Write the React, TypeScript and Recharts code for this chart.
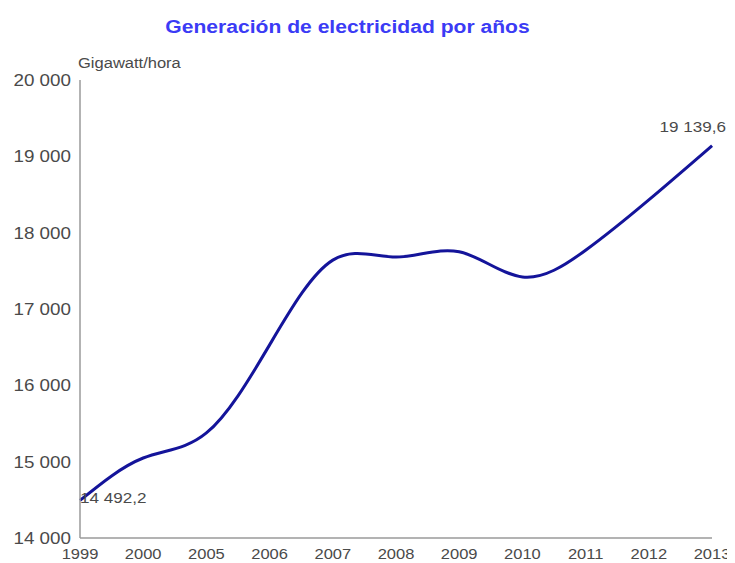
import { LineChart, Line, XAxis, YAxis, LabelList } from 'recharts'

const years = ['1999', '2000', '2005', '2006', '2007', '2008', '2009', '2010', '2011', '2012', '2013']
const generation = [14492.2, 15048, 15376, 16530, 17640, 17681, 17750, 17420, 17770, 18430, 19139.6]
const yTicks = [14000, 15000, 16000, 17000, 18000, 19000, 20000]

const data = years.map((year, i) => ({ year, value: generation[i] }))

const FONT = '"Liberation Sans", Arial, sans-serif'
const STRETCH = 1.14
const TEXT = '#4a4a4a'

const fmtThousands = (n: number) => String(n).replace(/\B(?=(\d{3})+(?!\d))/g, ' ')
const fmtValue = (n: number) => {
  const [int, dec] = n.toFixed(1).split('.')
  return `${fmtThousands(Number(int))},${dec}`
}

const YTick = ({ x, y, payload }: any) => (
  <text
    transform={`translate(${x},${y}) scale(${STRETCH},1)`}
    textAnchor="end"
    dy="0.36em"
    fontSize={16.5}
    fontFamily={FONT}
    fill={TEXT}
  >
    {fmtThousands(payload.value)}
  </text>
)

const XTick = ({ x, y, payload }: any) => (
  <text
    transform={`translate(${x},${y}) scale(1.1,1)`}
    textAnchor="middle"
    dy="0.71em"
    fontSize={15}
    fontFamily={FONT}
    fill={TEXT}
  >
    {payload.value}
  </text>
)

const EndLabel = (props: any) => {
  const { x, y, value, index } = props
  if (index === 0) {
    return (
      <text transform={`translate(${x},${y + 3}) scale(${STRETCH},1)`} textAnchor="start" fontSize={15} fontFamily={FONT} fill={TEXT}>
        {fmtValue(value)}
      </text>
    )
  }
  if (index === years.length - 1) {
    return (
      <text transform={`translate(${x + 14},${y - 14}) scale(${STRETCH},1)`} textAnchor="end" fontSize={15} fontFamily={FONT} fill={TEXT}>
        {fmtValue(value)}
      </text>
    )
  }
  return null
}

export default function App() {
  return (
    <div style={{ position: 'relative', width: 727, height: 555 }}>
      <LineChart width={727} height={555} data={data} margin={{ top: 72, right: 23, left: 0, bottom: 0 }}>
        <XAxis
          dataKey="year"
          height={25}
          interval={0}
          tickLine={false}
          tickMargin={4}
          stroke="#9a9a9a"
          strokeWidth={1.5}
          tick={<XTick />}
        />
        <YAxis
          width={72}
          domain={[14000, 20000]}
          ticks={yTicks}
          interval={0}
          tickLine={false}
          tickMargin={3}
          stroke="#9a9a9a"
          strokeWidth={1.5}
          tick={<YTick />}
        />
        <Line
          type="natural"
          dataKey="value"
          stroke="#14149a"
          strokeWidth={3}
          dot={false}
          isAnimationActive={false}
        >
          <LabelList dataKey="value" content={<EndLabel />} />
        </Line>
      </LineChart>
      <svg width={727} height={80} style={{ position: 'absolute', left: 0, top: 0, pointerEvents: 'none' }}>
        <text
          transform={`translate(339.5,25) scale(${STRETCH},1)`}
          textAnchor="middle"
          fontSize={18.5}
          fontWeight="bold"
          fontFamily={FONT}
          fill="#3b3bf5"
        >
          Generación de electricidad por años
        </text>
        <text
          transform={`translate(70,60) scale(${STRETCH},1)`}
          textAnchor="start"
          fontSize={14.5}
          fontFamily={FONT}
          fill={TEXT}
        >
          Gigawatt/hora
        </text>
      </svg>
    </div>
  )
}
